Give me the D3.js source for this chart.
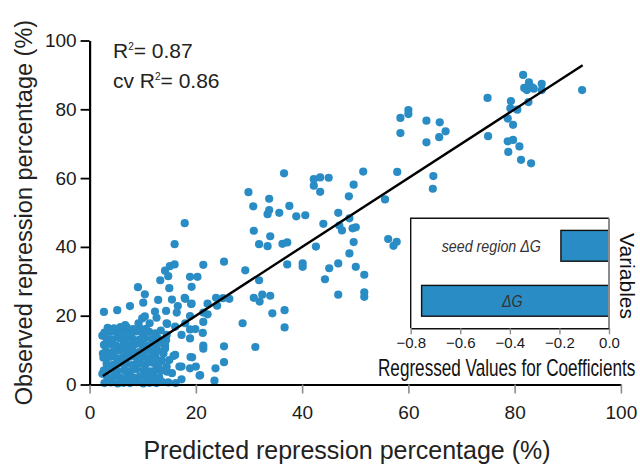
<!DOCTYPE html>
<html>
<head>
<meta charset="utf-8">
<script src="https://cdn.jsdelivr.net/npm/d3@7"></script>
<style>
  html, body { margin: 0; padding: 0; background: #fff; }
  svg { display: block; font-family: "Liberation Sans", Arial, Helvetica, sans-serif; }
</style>
</head>
<body>
<svg id="chart" width="640" height="466"></svg>
<script>
// Axis ticks (percent)
const xTicks = [0, 20, 40, 60, 80, 100];
const yTicks = [0, 20, 40, 60, 80, 100];

// Fitted line spans the range of predicted values
const fitRange = [2.5, 92.8];

// Goodness-of-fit annotations
const statPrefixes = ["", "cv "];
const statValues = ["0.87", "0.86"];

// Dense group of low-repression siRNAs: [predicted, observed]
const lowGroup = [
  [2.8,0.4],[4.0,0.6],[5.3,0.3],[6.4,0.5],[7.6,0.4],[8.9,0.7],[10.1,0.3],[11.3,0.5],[12.6,0.4],[14.8,0.6],[16.2,0.4],
  [3.3,2.2],[4.6,2.4],[5.8,2.1],[7.1,2.3],[8.3,2.0],[9.5,2.4],[10.7,2.2],[12.0,2.5],[13.1,2.1],
  [2.7,4.1],[3.9,4.3],[5.2,4.0],[6.5,4.2],[7.7,3.9],[8.8,4.4],[10.2,4.1],[11.4,3.8],[12.5,4.3],[13.5,4.0],
  [3.2,6.0],[4.5,5.8],[5.7,6.2],[7.0,6.0],[8.2,5.7],[9.4,6.1],[10.6,5.9],[11.9,6.3],[13.0,5.8],
  [2.6,7.8],[3.8,8.0],[5.1,7.7],[6.3,7.9],[7.6,8.1],[8.9,7.6],[10.0,8.0],[11.2,7.8],[12.4,8.2],
  [3.1,9.7],[4.4,9.5],[5.6,9.9],[6.9,9.6],[8.1,9.8],[9.3,9.4],[10.5,9.9],[11.8,9.6],[12.9,9.8],
  [2.7,11.5],[3.9,11.7],[5.0,11.4],[6.4,11.6],[7.5,11.3],[8.7,11.8],[9.9,11.5],[11.1,11.2],[12.3,11.6],
  [3.2,13.3],[4.3,13.1],[5.6,13.5],[6.8,13.2],[8.0,13.4],[9.3,13.0],[10.4,13.4],[11.7,13.2],[12.8,13.5],
  [2.8,15.1],[3.9,15.3],[5.2,14.9],[6.3,15.2],[7.6,15.0],[8.8,15.4],[9.9,15.0],[11.2,15.3],[12.4,14.9],
  [3.4,16.5],[4.6,16.3],[5.8,16.7],[7.0,16.6],[8.2,16.1],[9.4,16.4],[10.6,16.2],[6.7,17.3],[9.2,17.8],[11.3,17.8],
  [2.4,3.1],[2.5,9.0],[2.4,14.2],[13.6,7.0],[13.9,9.0],[13.2,12.1],[13.4,15.7],[6.0,1.2],[9.0,1.3],[11.9,1.4]
];

// Low-to-moderate repression
const lowMidGroup = [
  [2.7,21.1],[5.2,21.6],[7.6,22.8],[9.1,28.3],[10.4,26.2],[10.1,23.8],[9.9,19.2],[10.4,19.8],[12.6,19.4],
  [12.9,24.6],[12.3,21.2],[13.3,30.3],[14.2,33.1],[14.8,31.5],[15.1,34.4],[16.0,34.9],[15.0,28.0],[15.5,24.7],
  [14.4,21.4],[14.6,17.6],[16.6,22.8],[16.4,20.9],[18.0,24.9],[19.1,23.4],[21.4,20.9],[16.0,40.8],
  [14.2,10.5],[16.1,8.6],[17.3,5.2],[15.5,3.3],[17.3,1.5],[13.6,0.8],[12.6,7.1],[14.5,17.8],[16.1,16.8],
  [17.3,14.4],[14.5,14.4],[18.0,17.8],[16.9,5.2],[19.0,8.0],[20.7,2.6],[15.8,8.3],[15.0,7.1],[14.5,5.2],
  [14.6,3.7],[14.2,11.5],[14.4,12.9],
  [19.2,23.5],[22.2,23.5],[24.0,22.9],[32.0,24.1],[34.4,20.7],[36.7,21.6],[36.7,16.6],[28.8,17.8],
  [18.9,19.9],[22.2,20.4],[21.4,18.2],[18.9,16.0],[19.9,16.1],[21.3,15.0],[18.9,13.4],[21.4,11.3],
  [21.4,10.4],[25.3,11.1],[31.2,10.9],[19.3,7.9],[25.3,6.5],[23.7,4.7],[20.0,5.2],[18.9,4.7],[20.8,2.7],[23.5,1.1]
];

// Moderate repression
const midGroup = [
  [17.9,46.9],[29.9,55.9],[30.8,51.8],[36.6,61.4],[33.8,54.0],[33.8,50.7],[33.5,49.5],[35.7,49.9],[37.6,51.9],
  [38.9,48.9],[40.6,49.2],[42.2,59.7],[43.4,60.2],[45.0,60.1],[42.2,57.8],[43.4,56.0],[51.5,61.9],[49.7,58.1],
  [48.8,54.7],[46.8,49.9],[44.0,46.7],[48.9,48.3],[47.0,46.2],[47.5,44.8],[49.5,45.4],[50.1,45.7],[49.7,41.4],
  [48.9,38.1],[56.2,42.3],[57.2,40.3],[57.8,41.5],[30.9,44.7],[34.0,43.1],[31.9,40.8],[33.5,40.2],[36.3,40.9],
  [37.2,41.3],[42.6,40.1],[46.8,35.2],[40.1,35.2],[40.1,34.2],[37.2,34.9],[45.1,33.8],[50.1,34.2],[51.7,31.9],
  [44.3,30.6],[29.3,33.2],[31.9,30.3],[25.3,35.7],[21.4,34.8],[18.9,31.3],[20.3,31.3],[19.2,28.4],[17.9,25.2],
  [23.8,25.2],[25.1,25.1],[26.3,24.9],[30.9,25.2],[32.5,26.1],[34.0,25.8],[46.8,26.1],[51.7,26.8],[51.7,25.5]
];

// Strong repression
const highGroup = [
  [81.6,90.0],[82.7,87.8],[85.1,87.4],[81.8,86.2],[82.6,86.6],[83.3,86.4],[82.3,85.6],[83.6,86.0],[85.1,85.6],
  [92.7,85.6],[74.9,83.3],[79.3,82.4],[82.6,82.1],[79.2,80.3],[80.5,79.9],[60.0,79.8],[60.0,78.6],[58.5,77.5],
  [63.4,76.7],[65.9,76.2],[78.7,77.3],[79.7,75.5],[67.0,73.6],[58.5,73.1],[65.8,71.9],[75.0,72.2],[63.4,70.4],
  [78.7,70.7],[79.7,71.1],[80.9,69.2],[78.8,67.6],[81.2,65.3],[83.1,64.3],[57.9,61.8],[64.7,60.6],[64.6,56.9],
  [55.6,53.8]
];

// Regression coefficients (inset)
const coefNames = ["seed region ΔG", "ΔG"];
const coefValues = [-0.194, -0.756];
const coefTicks = [-0.8, -0.6, -0.4, -0.2, 0];

const BLUE = "#2a8cc4";
const svg = d3.select("#chart");

const x = d3.scaleLinear().domain([0, 100]).range([89.6, 620.9]);
const y = d3.scaleLinear().domain([0, 100]).range([384.5, 40.5]);

// Scatter
const points = lowGroup.concat(lowMidGroup, midGroup, highGroup);
svg.append("g")
  .selectAll("circle")
  .data(points)
  .join("circle")
  .attr("cx", d => x(d[0]))
  .attr("cy", d => y(d[1]))
  .attr("r", 4.1)
  .attr("fill", BLUE);

// Fitted line
svg.append("path")
  .datum(fitRange.map(v => [v, v]))
  .attr("d", d3.line().x(d => x(d[0])).y(d => y(d[1])))
  .attr("fill", "none")
  .attr("stroke", "#000")
  .attr("stroke-width", 2.4);

// X axis
const gx = svg.append("g")
  .attr("transform", `translate(0,${y(0)})`)
  .call(d3.axisBottom(x).tickValues(xTicks).tickSize(9).tickSizeOuter(0).tickPadding(12));
gx.select(".domain").attr("stroke", "#000").attr("stroke-width", 2.2);
gx.selectAll(".tick line").attr("stroke", "#8c8c8c").attr("stroke-width", 1.6);
gx.selectAll(".tick text").attr("font-size", 19).attr("fill", "#1a1a1a").attr("font-family", null);

// Y axis
const gy = svg.append("g")
  .attr("transform", `translate(${x(0)},0)`)
  .call(d3.axisLeft(y).tickValues(yTicks).tickSize(9).tickSizeOuter(0).tickPadding(4));
gy.select(".domain").attr("stroke", "#000").attr("stroke-width", 2.2);
gy.selectAll(".tick line").attr("stroke", "#000").attr("stroke-width", 1.8);
gy.selectAll(".tick text").attr("font-size", 19).attr("fill", "#1a1a1a").attr("font-family", null);

// Axis titles
svg.append("text")
  .attr("x", 347).attr("y", 459)
  .attr("text-anchor", "middle")
  .attr("font-size", 25)
  .attr("fill", "#222")
  .text("Predicted repression percentage (%)");

svg.append("text")
  .attr("transform", `translate(32,${(y(0) + y(100)) / 2}) rotate(-90)`)
  .attr("text-anchor", "middle")
  .attr("font-size", 23.5)
  .attr("fill", "#222")
  .text("Observed repression percentage (%)");

// R² annotations
statValues.forEach((v, i) => {
  const t = svg.append("text")
    .attr("x", 113).attr("y", 58 + i * 30)
    .attr("font-size", 21)
    .attr("fill", "#222");
  t.append("tspan").text(statPrefixes[i] + "R");
  t.append("tspan").attr("font-size", 10).attr("dy", -8).text("2");
  t.append("tspan").attr("dy", 8).text("= " + v);
});

// Inset: regressed coefficient values
const ix = d3.scaleLinear().domain([-0.8, 0]).range([410.7, 609]);
const iy = d3.scaleBand().domain(coefNames).range([218.3, 328.3]).paddingInner(0.44).paddingOuter(0.22);
const inset = svg.append("g");

inset.append("rect")
  .attr("x", ix(-0.8)).attr("y", 218.3)
  .attr("width", ix(0) - ix(-0.8)).attr("height", 110)
  .attr("fill", "#fff");

inset.selectAll("rect.bar")
  .data(coefNames.map((n, i) => ({ name: n, value: coefValues[i] })))
  .join("rect")
  .attr("class", "bar")
  .attr("x", d => ix(d.value))
  .attr("y", d => iy(d.name))
  .attr("width", d => ix(0) - ix(d.value))
  .attr("height", iy.bandwidth())
  .attr("fill", BLUE)
  .attr("stroke", "#111")
  .attr("stroke-width", 1.4);

// Bar labels: inside long bars, to the left of short ones (narrowed horizontally)
inset.selectAll("text.barlabel")
  .data(coefNames.map((n, i) => ({ name: n, value: coefValues[i] })))
  .join("text")
  .attr("class", "barlabel")
  .attr("transform", d => {
    const lx = d.value < -0.5 ? ix(d.value / 2) - 3 : ix(d.value) - 20;
    const ly = iy(d.name) + iy.bandwidth() / 2 + 6;
    return `translate(${lx},${ly}) scale(0.84,1)`;
  })
  .attr("text-anchor", d => d.value < -0.5 ? "middle" : "end")
  .attr("font-size", 17)
  .attr("font-style", "italic")
  .attr("fill", "#333")
  .text(d => d.name);

// Frame: top and left edges
inset.append("path")
  .attr("d", `M${ix(-0.8)},328.3V218.3H${ix(0)}`)
  .attr("fill", "none")
  .attr("stroke", "#111")
  .attr("stroke-width", 1.4);

// Zero line on the right
inset.append("line")
  .attr("x1", ix(0)).attr("x2", ix(0))
  .attr("y1", 218.3).attr("y2", 328.3)
  .attr("stroke", "#8c8c8c")
  .attr("stroke-width", 2);

const gix = inset.append("g")
  .attr("transform", "translate(0,328.3)")
  .call(d3.axisBottom(ix).tickValues(coefTicks).tickSize(6).tickSizeOuter(0).tickPadding(3));
gix.select(".domain").attr("stroke", "#111").attr("stroke-width", 1.4);
gix.selectAll(".tick line").attr("stroke", "#8c8c8c").attr("stroke-width", 1.4);
gix.selectAll(".tick text").attr("font-size", 15).attr("fill", "#1a1a1a").attr("font-family", null);

// Inset axis title, set in a narrowed face
svg.append("text")
  .attr("transform", "translate(378,376) scale(0.745,1)")
  .attr("font-size", 23)
  .attr("fill", "#111")
  .text("Regressed Values for Coefficients");

svg.append("text")
  .attr("transform", "translate(620,276) rotate(90)")
  .attr("text-anchor", "middle")
  .attr("font-size", 21)
  .attr("fill", "#111")
  .text("Variables");
</script>
</body>
</html>
